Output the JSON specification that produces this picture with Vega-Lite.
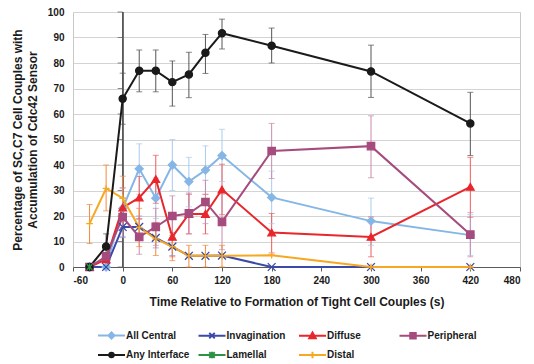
{
  "$schema": "https://vega.github.io/schema/vega-lite/v6.json",
  "width": 447,
  "height": 255,
  "autosize": {"type": "none"},
  "padding": {"left": 73, "top": 12, "right": 14, "bottom": 97},
  "config": {
    "font": "Liberation Sans",
    "view": {"stroke": "#c8c8c8", "strokeWidth": 1},
    "axis": {"labelFont": "Liberation Sans", "labelFontSize": 10, "labelFontWeight": "bold", "labelColor": "#1a1a1a", "titleFont": "Liberation Sans", "titleFontSize": 12, "titleFontWeight": "bold", "titleColor": "#1a1a1a"}
  },
  "datasets": {
    "main": [
      {"series": "All Central", "t": -40, "v": 0}, {"series": "All Central", "t": -20, "v": 0},
      {"series": "All Central", "t": 0, "v": 23, "lo": 15, "hi": 31},
      {"series": "All Central", "t": 20, "v": 38.5, "lo": 28.5, "hi": 48.3},
      {"series": "All Central", "t": 40, "v": 27, "lo": 19, "hi": 35},
      {"series": "All Central", "t": 60, "v": 40, "lo": 30, "hi": 50},
      {"series": "All Central", "t": 80, "v": 33.5, "lo": 23.6, "hi": 43},
      {"series": "All Central", "t": 100, "v": 38, "lo": 28.5, "hi": 47.5},
      {"series": "All Central", "t": 120, "v": 43.7, "lo": 33.5, "hi": 54},
      {"series": "All Central", "t": 180, "v": 27.3, "lo": 17, "hi": 37.6},
      {"series": "All Central", "t": 300, "v": 18, "lo": 8.5, "hi": 27},
      {"series": "All Central", "t": 420, "v": 12.5, "lo": 4.5, "hi": 20.5},
      {"series": "Invagination", "t": -40, "v": 0}, {"series": "Invagination", "t": -20, "v": 0},
      {"series": "Invagination", "t": 0, "v": 15.7, "lo": 11.5, "hi": 20},
      {"series": "Invagination", "t": 20, "v": 15.7, "lo": 11.5, "hi": 20},
      {"series": "Invagination", "t": 40, "v": 11.4, "lo": 7.5, "hi": 15.5},
      {"series": "Invagination", "t": 60, "v": 8, "lo": 4.5, "hi": 11.5},
      {"series": "Invagination", "t": 80, "v": 4.4}, {"series": "Invagination", "t": 100, "v": 4.4}, {"series": "Invagination", "t": 120, "v": 4.5},
      {"series": "Invagination", "t": 180, "v": 0}, {"series": "Invagination", "t": 300, "v": 0}, {"series": "Invagination", "t": 420, "v": 0},
      {"series": "Diffuse", "t": -40, "v": 0}, {"series": "Diffuse", "t": -20, "v": 3},
      {"series": "Diffuse", "t": 0, "v": 23.3, "lo": 15.5, "hi": 31},
      {"series": "Diffuse", "t": 20, "v": 27.2, "lo": 19, "hi": 35.5},
      {"series": "Diffuse", "t": 40, "v": 34.5, "lo": 25, "hi": 43.8},
      {"series": "Diffuse", "t": 60, "v": 11.8, "lo": 4, "hi": 19.5},
      {"series": "Diffuse", "t": 80, "v": 20.8, "lo": 13, "hi": 28.5},
      {"series": "Diffuse", "t": 100, "v": 20.8, "lo": 13, "hi": 28.5},
      {"series": "Diffuse", "t": 120, "v": 30.4, "lo": 20.5, "hi": 40.3},
      {"series": "Diffuse", "t": 180, "v": 13.5, "lo": 5.5, "hi": 21},
      {"series": "Diffuse", "t": 300, "v": 11.8, "lo": 4, "hi": 19.6},
      {"series": "Diffuse", "t": 420, "v": 31.4, "lo": 19.5, "hi": 43},
      {"series": "Peripheral", "t": -40, "v": 0}, {"series": "Peripheral", "t": -20, "v": 4.2},
      {"series": "Peripheral", "t": 0, "v": 19.6, "lo": 12, "hi": 27},
      {"series": "Peripheral", "t": 20, "v": 11.8, "lo": 5, "hi": 18.6},
      {"series": "Peripheral", "t": 40, "v": 15.7, "lo": 8.5, "hi": 23},
      {"series": "Peripheral", "t": 60, "v": 20, "lo": 12.4, "hi": 27.9},
      {"series": "Peripheral", "t": 80, "v": 21, "lo": 13, "hi": 29},
      {"series": "Peripheral", "t": 100, "v": 25.5, "lo": 17, "hi": 34},
      {"series": "Peripheral", "t": 120, "v": 17.7, "lo": 6.8, "hi": 28.6},
      {"series": "Peripheral", "t": 180, "v": 45.5, "lo": 34.7, "hi": 56.3},
      {"series": "Peripheral", "t": 300, "v": 47.4, "lo": 35, "hi": 59.3},
      {"series": "Peripheral", "t": 420, "v": 12.7, "lo": 4, "hi": 21.3},
      {"series": "Distal", "t": -40, "v": 17, "lo": 9.2, "hi": 24.5},
      {"series": "Distal", "t": -20, "v": 30.8, "lo": 22, "hi": 40},
      {"series": "Distal", "t": 0, "v": 27, "lo": 18, "hi": 35.6},
      {"series": "Distal", "t": 20, "v": 15.5, "lo": 8, "hi": 23},
      {"series": "Distal", "t": 40, "v": 11, "lo": 4.5, "hi": 17.5},
      {"series": "Distal", "t": 60, "v": 8, "lo": 2.5, "hi": 13.5},
      {"series": "Distal", "t": 80, "v": 4.4, "lo": 0, "hi": 8.5},
      {"series": "Distal", "t": 100, "v": 4.4, "lo": 0, "hi": 8.5},
      {"series": "Distal", "t": 120, "v": 4.4, "lo": 0, "hi": 8.5},
      {"series": "Distal", "t": 180, "v": 4.6}, {"series": "Distal", "t": 300, "v": 0}, {"series": "Distal", "t": 420, "v": 0},
      {"series": "Any Interface", "t": -40, "v": 0},
      {"series": "Any Interface", "t": -20, "v": 8, "lo": 3, "hi": 13},
      {"series": "Any Interface", "t": 0, "v": 66, "lo": 56, "hi": 76},
      {"series": "Any Interface", "t": 20, "v": 77, "lo": 68.7, "hi": 85.1},
      {"series": "Any Interface", "t": 40, "v": 77, "lo": 68.7, "hi": 85.1},
      {"series": "Any Interface", "t": 60, "v": 72.5, "lo": 63.1, "hi": 80.8},
      {"series": "Any Interface", "t": 80, "v": 75.5, "lo": 66.4, "hi": 84.2},
      {"series": "Any Interface", "t": 100, "v": 84, "lo": 75.9, "hi": 91.2},
      {"series": "Any Interface", "t": 120, "v": 91.7, "lo": 85.5, "hi": 97.2},
      {"series": "Any Interface", "t": 180, "v": 86.8, "lo": 80, "hi": 93.7},
      {"series": "Any Interface", "t": 300, "v": 76.7, "lo": 66.5, "hi": 87},
      {"series": "Any Interface", "t": 420, "v": 56.3, "lo": 43.7, "hi": 68.5},
      {"series": "Lamellal", "t": -40, "v": 0}
    ],
    "yticks": [{"y": 0}, {"y": 10}, {"y": 20}, {"y": 30}, {"y": 40}, {"y": 50}, {"y": 60}, {"y": 70}, {"y": 80}, {"y": 90}, {"y": 100}]
  },
  "resolve": {"scale": {"shape": "independent"}},
  "layer": [
    {
      "data": {"name": "yticks"},
      "mark": {"type": "rule", "color": "#595959", "strokeWidth": 1},
      "encoding": {
        "x": {"datum": 0, "type": "quantitative", "scale": {"domain": [-60, 480], "nice": false, "zero": false},
          "axis": {"values": [-60, 0, 60, 120, 180, 240, 300, 360, 420, 480], "labelExpr": "'' + datum.value", "grid": false, "domainColor": "#595959", "tickColor": "#595959", "tickSize": 4, "labelPadding": 4, "title": "Time Relative to Formation of Tight Cell Couples (s)", "titlePadding": 11}},
        "y": {"datum": 0, "type": "quantitative", "scale": {"domain": [0, 100], "nice": false},
          "axis": {"values": [0, 10, 20, 30, 40, 50, 60, 70, 80, 90, 100], "labelOverlap": false, "grid": true, "gridColor": "#d4d4d4", "domain": false, "ticks": false, "labelPadding": 9, "title": ["Percentage of SC,C7 Cell Couples with", "Accumulation of Cdc42 Sensor"], "titlePadding": 8, "titleLineHeight": 15}},
        "y2": {"datum": 100}
      }
    },
    {
      "data": {"name": "yticks"},
      "mark": {"type": "tick", "orient": "horizontal", "color": "#595959", "size": 5, "thickness": 1, "xOffset": -2.5},
      "encoding": {
        "x": {"datum": 0, "type": "quantitative",
          "axis": {"values": [-60, 0, 60, 120, 180, 240, 300, 360, 420, 480], "labelExpr": "'' + datum.value", "grid": false, "domainColor": "#595959", "tickColor": "#595959", "tickSize": 4, "labelPadding": 4, "title": "Time Relative to Formation of Tight Cell Couples (s)", "titlePadding": 11}},
        "y": {"field": "y", "type": "quantitative",
          "axis": {"values": [0, 10, 20, 30, 40, 50, 60, 70, 80, 90, 100], "labelOverlap": false, "grid": true, "gridColor": "#d4d4d4", "domain": false, "ticks": false, "labelPadding": 9, "title": ["Percentage of SC,C7 Cell Couples with", "Accumulation of Cdc42 Sensor"], "titlePadding": 8, "titleLineHeight": 15}}
      }
    },
    {
      "data": {"name": "main"},
      "mark": {"type": "rule", "strokeWidth": 1},
      "encoding": {
        "x": {"field": "t", "type": "quantitative",
          "axis": {"values": [-60, 0, 60, 120, 180, 240, 300, 360, 420, 480], "labelExpr": "'' + datum.value", "grid": false, "domainColor": "#595959", "tickColor": "#595959", "tickSize": 4, "labelPadding": 4, "title": "Time Relative to Formation of Tight Cell Couples (s)", "titlePadding": 11}},
        "y": {"field": "lo", "type": "quantitative",
          "axis": {"values": [0, 10, 20, 30, 40, 50, 60, 70, 80, 90, 100], "labelOverlap": false, "grid": true, "gridColor": "#d4d4d4", "domain": false, "ticks": false, "labelPadding": 9, "title": ["Percentage of SC,C7 Cell Couples with", "Accumulation of Cdc42 Sensor"], "titlePadding": 8, "titleLineHeight": 15}},
        "y2": {"field": "hi"},
        "stroke": {"field": "series", "type": "nominal", "legend": null,
          "scale": {"domain": ["All Central", "Invagination", "Diffuse", "Peripheral", "Any Interface", "Lamellal", "Distal"],
            "range": ["#a7cbee", "#8593d6", "#f05a5d", "#c98aae", "#555555", "#6fbf80", "#f5883c"]}}
      }
    },
    {
      "data": {"name": "main"},
      "mark": {"type": "point", "shape": "stroke", "filled": false, "size": 36, "strokeWidth": 1},
      "encoding": {
        "x": {"field": "t", "type": "quantitative",
          "axis": {"values": [-60, 0, 60, 120, 180, 240, 300, 360, 420, 480], "labelExpr": "'' + datum.value", "grid": false, "domainColor": "#595959", "tickColor": "#595959", "tickSize": 4, "labelPadding": 4, "title": "Time Relative to Formation of Tight Cell Couples (s)", "titlePadding": 11}},
        "y": {"field": "lo", "type": "quantitative",
          "axis": {"values": [0, 10, 20, 30, 40, 50, 60, 70, 80, 90, 100], "labelOverlap": false, "grid": true, "gridColor": "#d4d4d4", "domain": false, "ticks": false, "labelPadding": 9, "title": ["Percentage of SC,C7 Cell Couples with", "Accumulation of Cdc42 Sensor"], "titlePadding": 8, "titleLineHeight": 15}},
        "stroke": {"field": "series", "type": "nominal", "legend": null}
      }
    },
    {
      "data": {"name": "main"},
      "mark": {"type": "point", "shape": "stroke", "filled": false, "size": 36, "strokeWidth": 1},
      "encoding": {
        "x": {"field": "t", "type": "quantitative",
          "axis": {"values": [-60, 0, 60, 120, 180, 240, 300, 360, 420, 480], "labelExpr": "'' + datum.value", "grid": false, "domainColor": "#595959", "tickColor": "#595959", "tickSize": 4, "labelPadding": 4, "title": "Time Relative to Formation of Tight Cell Couples (s)", "titlePadding": 11}},
        "y": {"field": "hi", "type": "quantitative",
          "axis": {"values": [0, 10, 20, 30, 40, 50, 60, 70, 80, 90, 100], "labelOverlap": false, "grid": true, "gridColor": "#d4d4d4", "domain": false, "ticks": false, "labelPadding": 9, "title": ["Percentage of SC,C7 Cell Couples with", "Accumulation of Cdc42 Sensor"], "titlePadding": 8, "titleLineHeight": 15}},
        "stroke": {"field": "series", "type": "nominal", "legend": null}
      }
    },
    {
      "data": {"name": "main"},
      "mark": {"type": "line", "strokeWidth": 2},
      "encoding": {
        "x": {"field": "t", "type": "quantitative",
          "axis": {"values": [-60, 0, 60, 120, 180, 240, 300, 360, 420, 480], "labelExpr": "'' + datum.value", "grid": false, "domainColor": "#595959", "tickColor": "#595959", "tickSize": 4, "labelPadding": 4, "title": "Time Relative to Formation of Tight Cell Couples (s)", "titlePadding": 11}},
        "y": {"field": "v", "type": "quantitative",
          "axis": {"values": [0, 10, 20, 30, 40, 50, 60, 70, 80, 90, 100], "labelOverlap": false, "grid": true, "gridColor": "#d4d4d4", "domain": false, "ticks": false, "labelPadding": 9, "title": ["Percentage of SC,C7 Cell Couples with", "Accumulation of Cdc42 Sensor"], "titlePadding": 8, "titleLineHeight": 15}},
        "color": {"field": "series", "type": "nominal", "legend": null,
          "scale": {"domain": ["All Central", "Invagination", "Diffuse", "Peripheral", "Any Interface", "Lamellal", "Distal"],
            "range": ["#86b6e6", "#3a4aa8", "#e8262b", "#a64b7e", "#1a1a1a", "#2d9245", "#f7a823"]}}
      }
    },
    {
      "data": {"name": "main"},
      "mark": {"type": "point", "filled": false, "strokeWidth": 1.3, "opacity": 1},
      "encoding": {
        "x": {"field": "t", "type": "quantitative",
          "axis": {"values": [-60, 0, 60, 120, 180, 240, 300, 360, 420, 480], "labelExpr": "'' + datum.value", "grid": false, "domainColor": "#595959", "tickColor": "#595959", "tickSize": 4, "labelPadding": 4, "title": "Time Relative to Formation of Tight Cell Couples (s)", "titlePadding": 11}},
        "y": {"field": "v", "type": "quantitative",
          "axis": {"values": [0, 10, 20, 30, 40, 50, 60, 70, 80, 90, 100], "labelOverlap": false, "grid": true, "gridColor": "#d4d4d4", "domain": false, "ticks": false, "labelPadding": 9, "title": ["Percentage of SC,C7 Cell Couples with", "Accumulation of Cdc42 Sensor"], "titlePadding": 8, "titleLineHeight": 15}},
        "color": {"field": "series", "type": "nominal", "legend": null},
        "fill": {"field": "series", "type": "nominal", "legend": null,
          "scale": {"domain": ["All Central", "Invagination", "Diffuse", "Peripheral", "Any Interface", "Lamellal", "Distal"],
            "range": ["#86b6e6", "transparent", "#e8262b", "#a64b7e", "#1a1a1a", "transparent", "transparent"]}},
        "size": {"field": "series", "type": "nominal", "legend": null,
          "scale": {"domain": ["All Central", "Invagination", "Diffuse", "Peripheral", "Any Interface", "Lamellal", "Distal"],
            "range": [64, 45, 64, 60, 42, 50, 50]}},
        "shape": {"field": "series", "type": "nominal", "legend": null,
          "scale": {"domain": ["All Central", "Invagination", "Diffuse", "Peripheral", "Any Interface", "Lamellal", "Distal"],
            "range": ["diamond", "M-1,-1L1,1M-1,1L1,-1", "triangle-up", "square", "circle", "M-0.8,-0.8L0.8,0.8M-0.8,0.8L0.8,-0.8M0,-1V1", "M-1,0H1M0,-1V1"]}}
      }
    },
    {
      "data": {"name": "main"},
      "transform": [{"filter": "false"}],
      "mark": {"type": "point", "filled": false, "opacity": 1, "strokeWidth": 2,
        "stroke": {"expr": "({'All Central': '#86b6e6', 'Invagination': '#3a4aa8', 'Diffuse': '#e8262b', 'Peripheral': '#a64b7e', 'Any Interface': '#1a1a1a', 'Lamellal': '#2d9245', 'Distal': '#f7a823'})[datum.value]"},
        "fill": {"expr": "({'All Central': '#86b6e6', 'Invagination': '#3a4aa8', 'Diffuse': '#e8262b', 'Peripheral': '#a64b7e', 'Any Interface': '#1a1a1a', 'Lamellal': '#2d9245', 'Distal': '#f7a823'})[datum.value]"}},
      "encoding": {
        "shape": {"field": "series", "type": "nominal",
          "scale": {"domain": ["All Central", "Invagination", "Diffuse", "Peripheral", "Any Interface", "Lamellal", "Distal"],
            "range": [
              "M-1,0H4.4M1.7,-0.6L2.3,0L1.7,0.6L1.1,0Z",
              "M-1,0H4.4M1.15,-0.55L2.25,0.55M1.15,0.55L2.25,-0.55",
              "M-1,0H4.4M1.7,-0.65L2.35,0.5L1.05,0.5Z",
              "M-1,0H4.4M1.15,-0.55H2.25V0.55H1.15Z",
              "M-1,0H4.4M2.15,0A0.45,0.45 0 1,1 1.25,0A0.45,0.45 0 1,1 2.15,0Z",
              "M-1,0H4.4M1.15,-0.55L2.25,0.55M1.15,0.55L2.25,-0.55M1.7,-0.65V0.65",
              "M-1,0H4.4M1.7,-0.65V0.65"
            ]},
          "legend": {
            "title": null, "orient": "none", "legendX": 24, "legendY": 317, "direction": "horizontal", "columns": 4,
            "gridAlign": "all", "columnPadding": 4.5, "rowPadding": 4, "padding": 0,
            "symbolSize": 100, "symbolStrokeWidth": 2, "symbolOpacity": 1,
            "labelFont": "Liberation Sans", "labelFontSize": 10, "labelFontWeight": "bold", "labelColor": "#1a1a1a", "labelOffset": 17
          }
        }
      }
    }
  ]
}
